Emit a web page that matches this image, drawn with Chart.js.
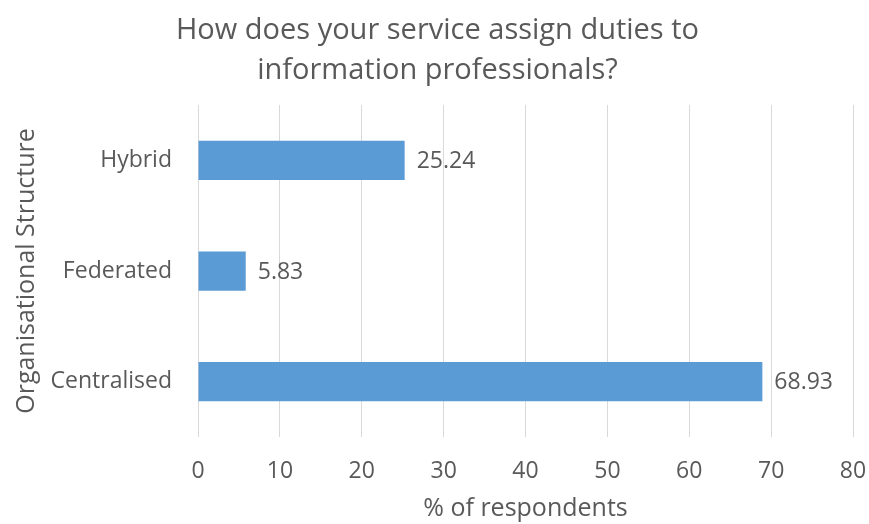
<!DOCTYPE html>
<html>
<head>
<meta charset="utf-8">
<script src="https://cdn.jsdelivr.net/npm/chart.js@4"></script>
<style>
  body { margin: 0; background: #fff; overflow: hidden; }
  #wrap { width: 869px; height: 524px; }
  canvas { display: block; }
</style>
</head>
<body>
<div id="wrap"><canvas id="grafico" width="869" height="524"></canvas></div>
<script>
// dados do gráfico
const categories = ["Hybrid", "Federated", "Centralised"];
const values = [25.24, 5.83, 68.93];
const xTicks = [0, 10, 20, 30, 40, 50, 60, 70, 80];

const FONT = "'Open Sans', sans-serif";
const GREY = "#595959";

// rótulos de valor à direita das barras
const valueLabels = {
  id: "valueLabels",
  afterDatasetsDraw(chart) {
    const ctx = chart.ctx;
    const meta = chart.getDatasetMeta(0);
    ctx.save();
    ctx.font = "23px " + FONT;
    ctx.fillStyle = GREY;
    ctx.textAlign = "left";
    ctx.textBaseline = "middle";
    meta.data.forEach((bar, i) => {
      ctx.fillText(values[i].toFixed(2), bar.x + 12, bar.y + 1);
    });
    ctx.restore();
  },
};

new Chart(document.getElementById("grafico").getContext("2d"), {
  type: "bar",
  data: {
    labels: categories,
    datasets: [{
      data: values,
      backgroundColor: "#5b9bd5",
      borderWidth: 0,
      barPercentage: 0.355,
      categoryPercentage: 1,
    }],
  },
  options: {
    indexAxis: "y",
    responsive: false,
    animation: false,
    layout: { padding: { top: 0, right: 0, bottom: 0, left: 6 } },
    plugins: {
      legend: { display: false },
      tooltip: { enabled: false },
      title: {
        display: true,
        text: ["How does your service assign duties to", "information professionals?"],
        color: GREY,
        font: { family: FONT, size: 29, weight: "normal", lineHeight: 1.38 },
        padding: { top: 11, bottom: 14 },
      },
    },
    scales: {
      x: {
        min: 0,
        max: 80,
        afterBuildTicks: (scale) => { scale.ticks = xTicks.map((v) => ({ value: v })); },
        afterFit: (scale) => {
          scale.height = 87;
          scale.paddingLeft = 0;
          scale.paddingRight = 16;
        },
        grid: { color: "#d9d9d9", drawTicks: true, tickLength: 8, tickColor: "#ffffff" },
        border: { display: false },
        ticks: { color: GREY, font: { family: FONT, size: 23 }, padding: 13 },
        title: {
          display: true,
          text: "% of respondents",
          color: GREY,
          font: { family: FONT, size: 25 },
          padding: { top: 0, bottom: 0 },
        },
      },
      y: {
        afterFit: (scale) => { scale.width = 192; },
        grid: { display: false, drawTicks: false },
        border: { display: false },
        ticks: { color: GREY, font: { family: FONT, size: 23 }, padding: 26 },
        title: {
          display: true,
          text: "Organisational Structure",
          color: GREY,
          font: { family: FONT, size: 25 },
          padding: { top: 6, bottom: 0 },
        },
      },
    },
  },
  plugins: [valueLabels],
});
</script>
</body>
</html>
